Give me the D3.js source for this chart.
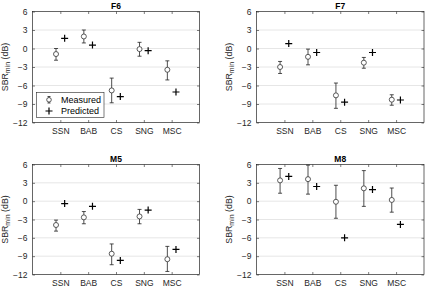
<!DOCTYPE html>
<html>
<head>
  <meta charset="utf-8">
  <script src="https://cdn.jsdelivr.net/npm/d3@7"></script>
  <style>
    body { margin: 0; background: #fff; }
    text { font-family: "Liberation Sans", Arial, sans-serif; }
  </style>
</head>
<body>
<script>
  const width = 429, height = 288;
  const categories = ['SSN', 'BAB', 'CS', 'SNG', 'MSC'];
  const yTicks = [-12, -9, -6, -3, 0, 3, 6];
  const panelNames = ['F6', 'F7', 'M5', 'M8'];

  // measured mean, lower and upper end of the error bar, predicted value
  const measuredF6 = [-0.9, 1.95, -6.8, -0.1, -3.45];
  const lowF6 = [-1.9, 0.9, -8.8, -1.25, -5.1];
  const highF6 = [0, 3.0, -4.8, 1.0, -2.0];
  const predictedF6 = [1.65, 0.55, -7.8, -0.35, -7.05];

  const measuredF7 = [-3.0, -1.35, -7.6, -2.3, -8.3];
  const lowF7 = [-4.05, -2.65, -9.7, -3.2, -9.2];
  const highF7 = [-2.1, -0.1, -5.6, -1.45, -7.5];
  const predictedF7 = [0.8, -0.65, -8.7, -0.65, -8.35];

  const measuredM5 = [-3.9, -2.65, -8.6, -2.5, -9.5];
  const lowM5 = [-4.9, -3.7, -10.4, -3.7, -11.5];
  const highM5 = [-3.1, -1.7, -7.0, -1.35, -7.4];
  const predictedM5 = [-0.4, -0.85, -9.7, -1.45, -7.9];

  const measuredM8 = [3.4, 3.6, -0.1, 2.1, 0.2];
  const lowM8 = [1.3, 1.15, -2.8, -0.85, -1.8];
  const highM8 = [5.35, 5.9, 2.6, 5.0, 2.15];
  const predictedM8 = [4.05, 2.4, -6.0, 1.9, -3.8];

  const panelData = [
    [measuredF6, lowF6, highF6, predictedF6],
    [measuredF7, lowF7, highF7, predictedF7],
    [measuredM5, lowM5, highM5, predictedM5],
    [measuredM8, lowM8, highM8, predictedM8]
  ];

  const boxes = [
    { left: 32.5, right: 199.5, top: 11.5, bottom: 122.5 },
    { left: 256.5, right: 424, top: 11.5, bottom: 122.5 },
    { left: 32.5, right: 199.5, top: 164.5, bottom: 274.5 },
    { left: 256.5, right: 424, top: 164.5, bottom: 274.5 }
  ];

  const axisColor = '#262626';
  const offset = 0.155;

  const svg = d3.select('body').append('svg')
    .attr('width', width)
    .attr('height', height);

  panelNames.forEach((name, p) => {
    const b = boxes[p];
    const [meas, low, high, pred] = panelData[p];
    const x = d3.scaleLinear().domain([0, 6]).range([b.left, b.right]);
    const y = d3.scaleLinear().domain([-12, 6]).range([b.bottom, b.top]);
    const g = svg.append('g');

    // grid
    g.selectAll('.grid').data(yTicks.slice(1, -1)).enter().append('line')
      .attr('x1', b.left).attr('x2', b.right)
      .attr('y1', d => y(d)).attr('y2', d => y(d))
      .attr('stroke', '#e6e6e6').attr('stroke-width', 1);

    // axes with inward ticks
    const yAxL = d3.axisLeft(y).tickValues(yTicks).tickSizeInner(-2.5).tickSizeOuter(0).tickPadding(5);
    const yAxR = d3.axisRight(y).tickValues(yTicks).tickSizeInner(-2.5).tickSizeOuter(0).tickFormat('');
    const xAxB = d3.axisBottom(x).tickValues([1, 2, 3, 4, 5]).tickSizeInner(-2.5).tickSizeOuter(0)
      .tickPadding(5.5).tickFormat(i => categories[i - 1]);
    const xAxT = d3.axisTop(x).tickValues([1, 2, 3, 4, 5]).tickSizeInner(-2.5).tickSizeOuter(0).tickFormat('');

    [[yAxL, `translate(${b.left},0)`], [yAxR, `translate(${b.right},0)`],
     [xAxB, `translate(0,${b.bottom})`], [xAxT, `translate(0,${b.top})`]].forEach(([ax, tr]) => {
      const a = g.append('g').attr('transform', tr).call(ax);
      a.select('.domain').remove();
      a.selectAll('line').attr('stroke', axisColor).attr('stroke-width', 0.6);
      a.selectAll('text').attr('fill', axisColor).attr('font-size', 8.5);
    });

    g.append('rect')
      .attr('x', b.left).attr('y', b.top)
      .attr('width', b.right - b.left).attr('height', b.bottom - b.top)
      .attr('fill', 'none').attr('stroke', axisColor).attr('stroke-width', 0.7);

    // title
    g.append('text')
      .attr('x', (b.left + b.right) / 2).attr('y', b.top - 3)
      .attr('text-anchor', 'middle').attr('font-size', 8.5).attr('font-weight', 'bold')
      .attr('fill', '#000').text(name);

    // y label
    const lab = g.append('text')
      .attr('transform', `translate(${b.left - 25},${(b.top + b.bottom) / 2}) rotate(-90)`)
      .attr('text-anchor', 'middle').attr('font-size', 8.8).attr('fill', axisColor);
    lab.append('tspan').text('SBR');
    lab.append('tspan').attr('dy', 2.8).attr('font-size', 7).text('min');
    lab.append('tspan').attr('dy', -2.8).text(' (dB)');

    // error bars
    const eb = g.selectAll('.eb').data(meas).enter().append('g')
      .attr('stroke', '#222').attr('stroke-width', 0.8);
    eb.append('line')
      .attr('x1', (d, i) => x(i + 1 - offset)).attr('x2', (d, i) => x(i + 1 - offset))
      .attr('y1', (d, i) => y(low[i])).attr('y2', (d, i) => y(high[i]));
    eb.append('line')
      .attr('x1', (d, i) => x(i + 1 - offset) - 2).attr('x2', (d, i) => x(i + 1 - offset) + 2)
      .attr('y1', (d, i) => y(low[i])).attr('y2', (d, i) => y(low[i]));
    eb.append('line')
      .attr('x1', (d, i) => x(i + 1 - offset) - 2).attr('x2', (d, i) => x(i + 1 - offset) + 2)
      .attr('y1', (d, i) => y(high[i])).attr('y2', (d, i) => y(high[i]));

    g.selectAll('.meas').data(meas).enter().append('circle')
      .attr('cx', (d, i) => x(i + 1 - offset)).attr('cy', d => y(d))
      .attr('r', 2.5).attr('fill', '#fff').attr('stroke', '#333').attr('stroke-width', 0.8);

    // predicted plus markers
    g.selectAll('.pred').data(pred).enter().append('path')
      .attr('d', 'M-3.5,0H3.5M0,-3.5V3.5')
      .attr('transform', (d, i) => `translate(${x(i + 1 + offset)},${y(d)})`)
      .attr('stroke', '#000').attr('stroke-width', 1.2).attr('fill', 'none');

    if (p === 0) {
      const lg = g.append('g');
      lg.append('rect').attr('x', 36.5).attr('y', 92.5).attr('width', 67.5).attr('height', 25)
        .attr('fill', '#fff').attr('stroke', axisColor).attr('stroke-width', 0.6);
      lg.append('line').attr('x1', 49).attr('x2', 49).attr('y1', 96.5).attr('y2', 103)
        .attr('stroke', '#222').attr('stroke-width', 0.8);
      lg.append('line').attr('x1', 47.5).attr('x2', 50.5).attr('y1', 96.5).attr('y2', 96.5)
        .attr('stroke', '#222').attr('stroke-width', 0.8);
      lg.append('line').attr('x1', 47.5).attr('x2', 50.5).attr('y1', 103).attr('y2', 103)
        .attr('stroke', '#222').attr('stroke-width', 0.8);
      lg.append('circle').attr('cx', 49).attr('cy', 99.8).attr('r', 2.3)
        .attr('fill', '#fff').attr('stroke', '#333').attr('stroke-width', 0.8);
      lg.append('path').attr('d', 'M45.5,111H52.5M49,107.5V114.5')
        .attr('stroke', '#000').attr('stroke-width', 1.2);
      lg.append('text').attr('x', 61).attr('y', 103).attr('font-size', 9)
        .attr('fill', '#000').text('Measured');
      lg.append('text').attr('x', 61).attr('y', 114.2).attr('font-size', 9)
        .attr('fill', '#000').text('Predicted');
    }
  });
</script>
</body>
</html>
